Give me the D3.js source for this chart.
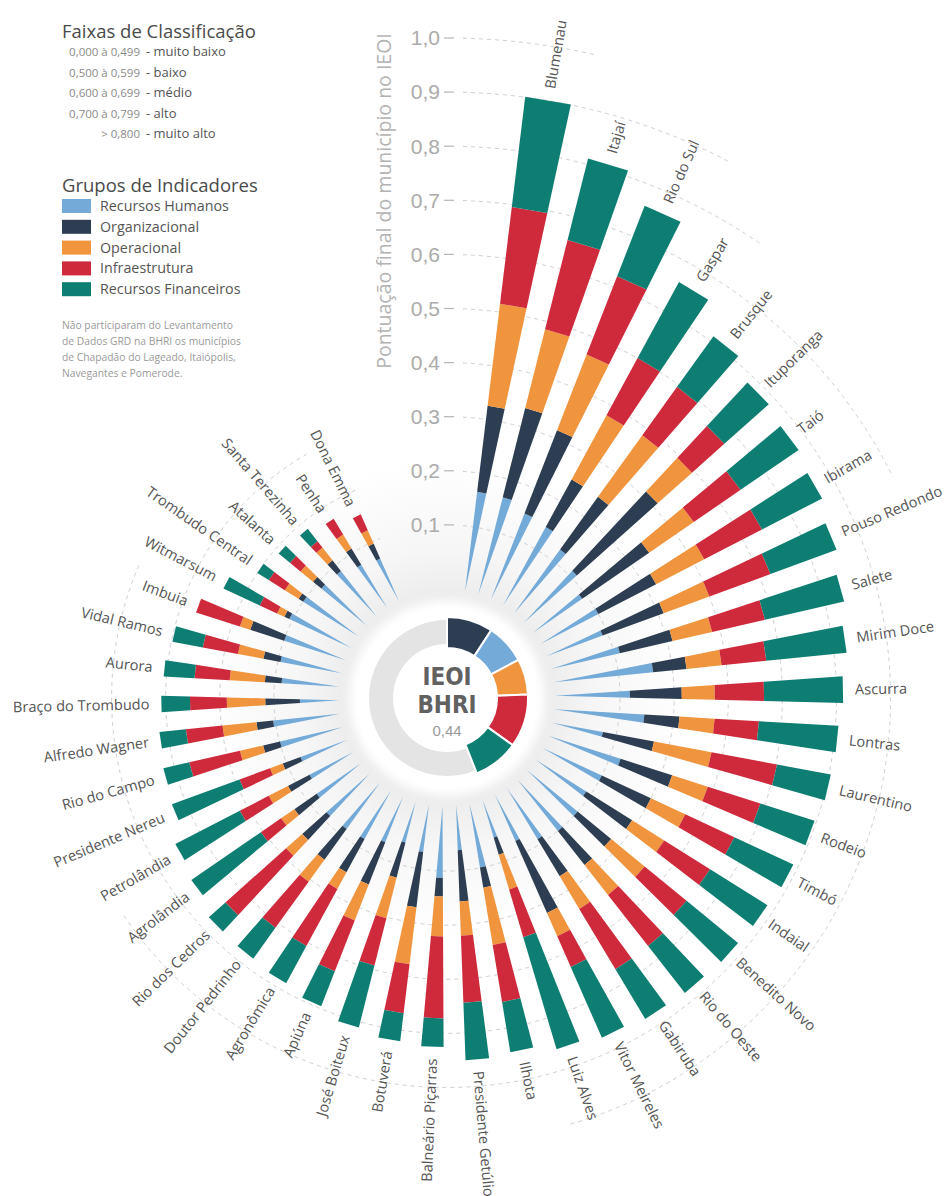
<!DOCTYPE html>
<html><head><meta charset="utf-8">
<script src="https://cdn.jsdelivr.net/npm/d3@7"></script>
<style>body{margin:0;background:#fff}svg{display:block}text{font-family:"Open Sans",sans-serif}</style>
</head><body><svg id="c" width="945" height="1196"></svg>
<script>
const municipios = ["Blumenau","Itajaí","Rio do Sul","Gaspar","Brusque","Ituporanga","Taió","Ibirama","Pouso Redondo","Salete","Mirim Doce","Ascurra","Lontras","Laurentino","Rodeio","Timbó","Indaial","Benedito Novo","Rio do Oeste","Gabiruba","Vitor Meireles","Luiz Alves","Ilhota","Presidente Getúlio","Balneário Piçarras","Botuverá","José Boiteux","Apiúna","Agronômica","Doutor Pedrinho","Rio dos Cedros","Agrolândia","Petrolândia","Presidente Nereu","Rio do Campo","Alfredo Wagner","Braço do Trombudo","Aurora","Vidal Ramos","Imbuia","Witmarsum","Trombudo Central","Atalanta","Santa Terezinha","Penha","Dona Emma"];
const recursosHumanos = [0.165,0.165,0.15,0.145,0.125,0.11,0.09,0.10,0.09,0.11,0.164,0.118,0.146,0.075,0.12,0.10,0.09,0.10,0.10,0.09,0.073,0.052,0.099,0.062,0.113,0.068,0.058,0.07,0.082,0.085,0.087,0.079,0.071,0.072,0.099,0.104,0.052,0.087,0.095,0.099,0.106,0.10,0.088,0.086,0.073,0.066];
const organizacional = [0.16,0.17,0.165,0.10,0.12,0.20,0.15,0.12,0.12,0.10,0.062,0.096,0.065,0.096,0.10,0.10,0.10,0.08,0.08,0.08,0.145,0.033,0.038,0.095,0.034,0.103,0.067,0.084,0.07,0.07,0.06,0.05,0.045,0.035,0.032,0.031,0.064,0.031,0.032,0.066,0.01,0.01,0.02,0.025,0.035,0.03];
const operacional = [0.19,0.15,0.15,0.135,0.14,0.085,0.10,0.10,0.09,0.075,0.065,0.061,0.065,0.108,0.069,0.07,0.07,0.08,0.07,0.07,0.047,0.067,0.107,0.063,0.074,0.106,0.077,0.071,0.035,0.05,0.04,0.03,0.04,0.025,0.044,0.063,0.071,0.065,0.048,0.02,0.015,0.03,0.03,0.03,0.03,0.027];
const infraestrutura = [0.18,0.17,0.155,0.12,0.11,0.08,0.105,0.12,0.12,0.10,0.083,0.091,0.082,0.123,0.102,0.10,0.10,0.10,0.12,0.13,0.062,0.092,0.107,0.124,0.151,0.091,0.09,0.101,0.12,0.105,0.15,0.045,0.06,0.06,0.096,0.068,0.068,0.065,0.066,0.085,0.035,0.035,0.025,0.015,0.034,0.032];
const recursosFinanceiros = [0.205,0.155,0.14,0.16,0.115,0.11,0.13,0.125,0.13,0.15,0.149,0.146,0.147,0.101,0.105,0.12,0.125,0.123,0.11,0.107,0.143,0.216,0.094,0.106,0.053,0.052,0.118,0.069,0.078,0.07,0.041,0.156,0.134,0.133,0.049,0.049,0.053,0.057,0.057,0,0.074,0.025,0.027,0.029,0,0];
const grupos = ["Recursos Humanos","Organizacional","Operacional","Infraestrutura","Recursos Financeiros"];
const cores = ["#74aad8","#2d3e52","#f0953e","#cf2a3b","#0e7e72"];
const ticksEixo = [0.1,0.2,0.3,0.4,0.5,0.6,0.7,0.8,0.9,1.0];
const faixasIntervalo = ["0,000 à 0,499","0,500 à 0,599","0,600 à 0,699","0,700 à 0,799","> 0,800"];
const faixasClasse = ["- muito baixo","- baixo","- médio","- alto","- muito alto"];
const donutGrupos = ["Organizacional","Recursos Humanos","Operacional","Infraestrutura","Recursos Financeiros"];
const donutValores = [0.092,0.080,0.071,0.106,0.091];
const ieoiBHRI = "0,44";
const nota = ["Não participaram do Levantamento","de Dados GRD na BHRI os municípios","de Chapadão do Lageado, Itaiópolis,","Navegantes e Pomerode."];

const W = 945, H = 1196, cx = 447, cy = 698;
const deg = Math.PI / 180;
const svg = d3.select("#c");
const defs = svg.append("defs");
const g1 = defs.append("radialGradient").attr("id","halo").attr("gradientUnits","userSpaceOnUse")
  .attr("cx",cx).attr("cy",cy).attr("r",240);
[[0,"#fff"],[0.40,"#ebebeb"],[0.62,"#f6f6f6"],[1,"#fff"]].forEach(s=>g1.append("stop").attr("offset",s[0]).attr("stop-color",s[1]));
defs.append("filter").attr("id","blur").attr("x","-50%").attr("y","-50%").attr("width","200%").attr("height","200%")
  .append("feGaussianBlur").attr("stdDeviation",5);

svg.append("rect").attr("width",W).attr("height",H).attr("fill","#fff");
svg.append("circle").attr("cx",cx).attr("cy",cy).attr("r",240).attr("fill","url(#halo)");

const data = municipios.map((m,i)=>({municipio:m,
  "Recursos Humanos":recursosHumanos[i],"Organizacional":organizacional[i],"Operacional":operacional[i],
  "Infraestrutura":infraestrutura[i],"Recursos Financeiros":recursosFinanceiros[i]}));
data.forEach(d=>d.total=d3.sum(grupos,k=>d[k]));
const series = d3.stack().keys(grupos)(data);

const r = d3.scaleLinear().domain([0,1]).range([119,660]);
const ang = d3.scaleBand().domain(municipios).range([6*deg,(6+46*7.2)*deg]).padding(0);
const color = d3.scaleOrdinal().domain(grupos).range(cores);
const mid = m => ang(m) + ang.bandwidth()/2;

// grid arcs
const gGrid = svg.append("g");
ticksEixo.forEach(t=>{
  const rr = r(t);
  let runs = [], cur = null;
  data.forEach((d,i)=>{
    if (d.total + 0.14 >= t) {
      const s = i===0 ? Math.asin(16/rr) : ang(d.municipio), e = ang(d.municipio)+ang.bandwidth();
      if (cur && Math.abs(cur[1]-s)<1e-6) cur[1]=e; else { cur=[s,e]; runs.push(cur);} }
    else cur = null;
  });
  runs.forEach(([s,e])=>{
    const p = d3.path(); p.arc(cx,cy,rr,s-Math.PI/2,e-Math.PI/2);
    gGrid.append("path").attr("d",p.toString()).attr("fill","none").attr("stroke","#cfcfcf")
      .attr("stroke-width",1).attr("stroke-dasharray","4,4");
  });
});

// bars
const rApex = 108, taper = 0.0465;
const line = d3.line();
function seg(a, r0, r1){
  const P=(rr,s)=>{const h=Math.max(0,rr-rApex)*taper*s;
    return [cx+rr*Math.sin(a)+h*Math.cos(a), cy-rr*Math.cos(a)+h*Math.sin(a)];};
  return line([P(r0,-1),P(r1,-1),P(r1,1),P(r0,1)])+"Z";
}
const gBars = svg.append("g");
series.forEach(s=>{
  gBars.append("g").attr("fill",color(s.key)).selectAll("path").data(s).join("path")
    .attr("d",d=>{ const a=mid(d.data.municipio); const r0 = d[0]===0 ? rApex : r(d[0]);
      return d[1]-d[0] > 0 ? seg(a,r0,r(d[1])) : null; });
});

// labels
svg.append("g").selectAll("text").data(data).join("text")
  .attr("font-size",14.6).attr("fill","#555").attr("dy","0.35em")
  .attr("text-anchor",d=>mid(d.municipio)<Math.PI?"start":"end")
  .attr("transform",d=>{const a=mid(d.municipio), rr=r(d.total)+12;
    const x=cx+rr*Math.sin(a), y=cy-rr*Math.cos(a), dg=a/deg;
    return `translate(${x},${y}) rotate(${dg<180?dg-90:dg+90})`;})
  .text(d=>d.municipio);

// center white disc & donut
svg.append("circle").attr("cx",cx).attr("cy",cy).attr("r",98).attr("fill","#fff").attr("filter","url(#blur)");
svg.append("circle").attr("cx",cx).attr("cy",cy).attr("r",90).attr("fill","#fff");
const gD = svg.append("g").attr("transform",`translate(${cx},${cy})`);
gD.append("path").attr("d",d3.arc().innerRadius(54).outerRadius(78).startAngle(0).endAngle(2*Math.PI)()).attr("fill","#e4e4e4");
const pie = d3.pie().sort(null).startAngle(0).endAngle(2*Math.PI*d3.sum(donutValores));
gD.selectAll("path.s").data(pie(donutValores)).join("path").attr("class","s")
  .attr("d",d3.arc().innerRadius(50).outerRadius(81))
  .attr("fill",(d,i)=>color(donutGrupos[i])).attr("stroke","#fff").attr("stroke-width",2);
const fN = "'Liberation Sans Narrow','DejaVu Sans Condensed',sans-serif";
gD.append("text").attr("text-anchor","middle").attr("y",-13).attr("font-size",24).attr("font-weight","bold")
  .style("font-family",fN).attr("fill","#616161").text("IEOI");
gD.append("text").attr("text-anchor","middle").attr("y",15).attr("font-size",24).attr("font-weight","bold")
  .style("font-family",fN).attr("fill","#616161").text("BHRI");
gD.append("text").attr("text-anchor","middle").attr("y",38).attr("font-size",15)
  .style("font-family","'Liberation Sans',sans-serif").attr("fill","#9a9a9a").text(ieoiBHRI);

// radial axis
const gAx = svg.append("g");
ticksEixo.forEach(t=>{
  const y = cy - r(t);
  gAx.append("text").attr("x",cx-7).attr("y",y).attr("dy","0.35em").attr("text-anchor","end")
    .attr("font-size",21).style("font-family","'Liberation Sans',sans-serif").attr("fill","#ababab")
    .text(d3.format(".1f")(t).replace(".",","));
  gAx.append("line").attr("x1",cx-3).attr("x2",cx+7).attr("y1",y).attr("y2",y).attr("stroke","#b5b5b5").attr("stroke-width",1.2);
});
gAx.append("text").attr("transform",`translate(391,${201}) rotate(-90)`).attr("text-anchor","middle")
  .attr("font-size",19.5).attr("fill","#b3b3b3").text("Pontuação final do município no IEOI");

// legend
const gL = svg.append("g");
gL.append("text").attr("x",62).attr("y",38).attr("font-size",18.5).attr("fill","#4a4a4a").text("Faixas de Classificação");
faixasIntervalo.forEach((f,i)=>{
  const y = 56 + i*20.5;
  gL.append("text").attr("x",140).attr("y",y).attr("text-anchor","end").attr("font-size",11.5).attr("fill","#8a8a8a").text(f);
  gL.append("text").attr("x",146).attr("y",y).attr("font-size",13).attr("fill","#555").text(faixasClasse[i]);
});
gL.append("text").attr("x",62).attr("y",192).attr("font-size",18.5).attr("fill","#4a4a4a").text("Grupos de Indicadores");
grupos.forEach((g,i)=>{
  const y = 199 + i*20.8;
  gL.append("rect").attr("x",62).attr("y",y).attr("width",29).attr("height",14).attr("fill",color(g));
  gL.append("text").attr("x",100).attr("y",y+12).attr("font-size",14.3).attr("fill","#555").text(g);
});
nota.forEach((t,i)=>gL.append("text").attr("x",62).attr("y",329+i*16).attr("font-size",10.3).attr("fill","#9a9a9a").text(t));
</script></body></html>
